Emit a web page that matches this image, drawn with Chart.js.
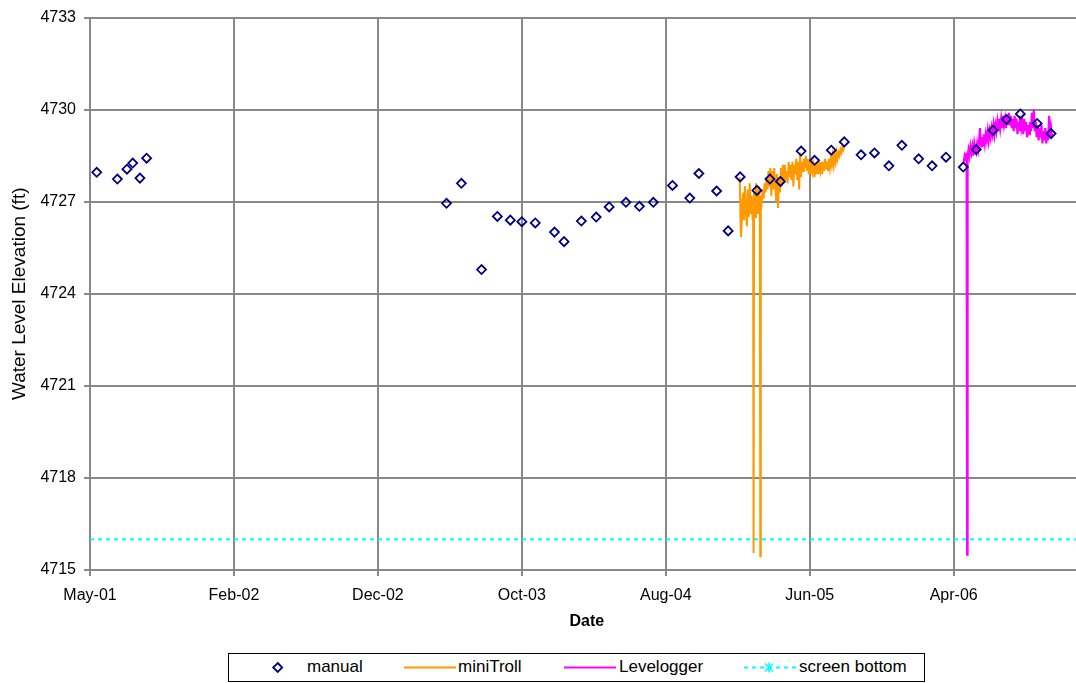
<!DOCTYPE html>
<html>
<head>
<meta charset="utf-8">
<script src="https://cdn.jsdelivr.net/npm/chart.js@4.4.0/dist/chart.umd.min.js"></script>
<style>
  html, body { margin: 0; padding: 0; background: #fff; overflow: hidden; }
  #wrap { position: relative; width: 1076px; height: 683px; overflow: hidden; }
  #chart { position: absolute; left: 0; top: 0; }
  #legend {
    position: absolute; left: 228px; top: 653px; width: 695px; height: 27px;
    border: 1px solid #000; font-family: "Liberation Sans", Arial, sans-serif; font-size: 17px; color: #000;
  }
  #legend span { position: absolute; top: 3px; line-height: 20px; white-space: nowrap; }
  #legend svg { position: absolute; left: 0; top: 0; }
</style>
</head>
<body>
<div id="wrap">
  <canvas id="chart" width="1090" height="640"></canvas>
  <div id="legend">
    <svg width="695" height="27">
      <polygon points="48.7,9 53.2,13.5 48.7,18 44.2,13.5" fill="none" stroke="#000080" stroke-width="1.8"/>
      <line x1="175" y1="13.5" x2="227" y2="13.5" stroke="#FF9900" stroke-width="2"/>
      <line x1="335" y1="13.5" x2="387" y2="13.5" stroke="#FF00FF" stroke-width="2"/>
      <line x1="515" y1="13.5" x2="568" y2="13.5" stroke="#00FFFF" stroke-width="2" stroke-dasharray="4,4"/>
      <path d="M536,9.5 L544,17.5 M544,9.5 L536,17.5 M540,8.5 L540,18.5" stroke="#00FFFF" stroke-width="1.6"/>
    </svg>
    <span style="left:78px">manual</span>
    <span style="left:229px">miniTroll</span>
    <span style="left:390px">Levelogger</span>
    <span style="left:570px">screen bottom</span>
  </div>
</div>
<script>
// x values are days counted from 1 May 2001
const DAY0 = Date.UTC(2001, 4, 1);
const monthNames = ["Jan", "Feb", "Mar", "Apr", "May", "Jun", "Jul", "Aug", "Sep", "Oct", "Nov", "Dec"];
const xMax = 2071;
const xTickDays = [0, 300, 600, 900, 1200, 1500, 1800];   // May-01 ... Apr-06

const manualDays = [
  14, 57, 77, 89, 104, 118,
  743, 774, 816, 849, 876, 900, 928, 968, 988, 1024, 1055, 1082, 1117, 1145,
  1174, 1214, 1250, 1269, 1306, 1330, 1355, 1390, 1417, 1439, 1482, 1510, 1545, 1572,
  1607, 1635, 1665, 1692, 1727, 1755, 1784, 1820, 1847, 1882, 1910, 1939, 1974, 2003
];
const manualLevels = [
  4727.96, 4727.74, 4728.06, 4728.26, 4727.77, 4728.42,
  4726.95, 4727.60, 4724.79, 4726.52, 4726.40, 4726.35, 4726.31, 4726.01, 4725.70, 4726.37, 4726.50, 4726.83, 4726.98, 4726.85,
  4726.98, 4727.53, 4727.12, 4727.92, 4727.35, 4726.05, 4727.81, 4727.37, 4727.74, 4727.66, 4728.65, 4728.35, 4728.68, 4728.95,
  4728.53, 4728.59, 4728.17, 4728.84, 4728.40, 4728.17, 4728.45, 4728.13, 4728.70, 4729.33, 4729.68, 4729.86, 4729.55, 4729.22
];

const trollDays = [
  1354, 1355, 1356, 1357, 1359, 1361, 1363, 1365, 1367, 1369,
  1371, 1373, 1375, 1377, 1379, 1381, 1382, 1383, 1384, 1386,
  1388, 1390, 1392, 1394, 1396, 1397, 1398, 1400, 1402, 1404,
  1406, 1408, 1410, 1412, 1414, 1416, 1418, 1420, 1422, 1424,
  1426, 1428, 1430, 1432, 1434, 1436, 1438, 1440, 1442, 1444,
  1446, 1448, 1450, 1452, 1454, 1456, 1458, 1460, 1462, 1464,
  1466, 1468, 1470, 1472, 1474, 1476, 1478, 1480, 1482, 1484,
  1486, 1488, 1490, 1492, 1494, 1496, 1498, 1500, 1502, 1504,
  1506, 1508, 1510, 1512, 1514, 1516, 1518, 1520, 1522, 1524,
  1526, 1528, 1530, 1532, 1534, 1536, 1538, 1540, 1542, 1544,
  1546, 1548, 1550, 1552, 1554, 1556, 1558, 1560, 1562, 1564,
  1566, 1568, 1570, 1572
];
const trollLevels = [
  4727.80, 4727.10, 4726.30, 4725.85, 4726.60, 4727.30, 4726.40, 4727.50, 4726.70, 4726.20,
  4727.40, 4726.50, 4727.60, 4726.60, 4727.20, 4726.40, 4727.00, 4715.55, 4727.30, 4726.50,
  4727.60, 4727.20, 4726.60, 4727.50, 4726.90, 4715.45, 4727.20, 4727.00, 4727.40, 4727.10,
  4727.60, 4727.30, 4727.80, 4727.40, 4728.00, 4727.50, 4728.10, 4727.20, 4728.00, 4727.40,
  4728.10, 4727.60, 4727.00, 4727.90, 4726.80, 4727.80, 4727.30, 4728.10, 4727.50, 4728.20,
  4727.60, 4728.20, 4727.70, 4728.00, 4727.60, 4728.30, 4727.80, 4728.20, 4727.70, 4728.30,
  4727.50, 4728.20, 4727.90, 4728.40, 4727.70, 4728.30, 4727.40, 4728.60, 4727.80, 4728.30,
  4728.00, 4728.40, 4728.10, 4728.50, 4728.00, 4728.40, 4727.90, 4728.30, 4727.90, 4728.40,
  4728.00, 4728.20, 4727.80, 4728.20, 4727.90, 4728.30, 4727.90, 4728.20, 4728.00, 4728.30,
  4727.90, 4728.30, 4728.00, 4728.40, 4728.10, 4728.30, 4728.00, 4728.40, 4728.10, 4728.40,
  4728.20, 4728.50, 4728.20, 4728.50, 4728.30, 4728.60, 4728.40, 4728.60, 4728.50, 4728.70,
  4728.60, 4728.80, 4728.70, 4728.85
];

const loggerDays = [
  1821, 1823, 1825, 1827, 1828, 1829, 1831, 1833, 1835, 1837,
  1839, 1841, 1843, 1845, 1847, 1849, 1851, 1853, 1855, 1857,
  1859, 1861, 1863, 1865, 1867, 1869, 1871, 1873, 1875, 1877,
  1879, 1881, 1883, 1885, 1887, 1889, 1891, 1893, 1895, 1897,
  1899, 1901, 1903, 1905, 1907, 1909, 1911, 1913, 1915, 1917,
  1919, 1921, 1923, 1925, 1927, 1929, 1931, 1933, 1935, 1937,
  1939, 1941, 1943, 1945, 1947, 1949, 1951, 1953, 1955, 1957,
  1959, 1961, 1963, 1965, 1967, 1969, 1971, 1973, 1975, 1977,
  1979, 1981, 1983, 1985, 1987, 1989, 1991, 1993, 1995, 1997,
  1999, 2001, 2003, 2005
];
const loggerLevels = [
  4728.30, 4728.50, 4728.40, 4728.60, 4715.50, 4728.50, 4728.70, 4728.50, 4728.80, 4728.60,
  4728.80, 4728.50, 4728.90, 4728.70, 4728.60, 4728.90, 4728.70, 4729.00, 4729.40, 4728.80,
  4729.10, 4728.80, 4729.20, 4728.90, 4729.20, 4729.00, 4729.30, 4729.00, 4729.30, 4729.10,
  4729.40, 4729.20, 4729.50, 4729.20, 4729.50, 4729.30, 4729.60, 4729.30, 4729.70, 4729.40,
  4729.70, 4729.40, 4729.80, 4729.50, 4729.70, 4729.40, 4729.80, 4729.50, 4729.90, 4729.50,
  4729.80, 4729.40, 4729.70, 4729.30, 4729.80, 4729.40, 4729.70, 4729.20, 4729.60, 4729.30,
  4729.80, 4729.40, 4729.60, 4729.20, 4729.70, 4729.30, 4729.60, 4729.10, 4729.50, 4729.20,
  4729.60, 4729.30, 4729.90, 4729.40, 4730.00, 4729.30, 4729.60, 4729.10, 4729.50, 4729.00,
  4729.40, 4729.10, 4729.50, 4728.90, 4729.30, 4729.00, 4729.40, 4728.90, 4729.30, 4729.00,
  4729.80, 4729.10, 4729.40, 4729.10
];

const screenDays = [0, xMax];
const screenLevels = [4716, 4716];

const pts = (xs, ys) => xs.map((x, i) => ({ x: x, y: ys[i] }));

function dateLabel(d) {
  const dt = new Date(DAY0 + d * 86400000);
  return monthNames[dt.getUTCMonth()] + "-" + String(dt.getUTCFullYear() % 100).padStart(2, "0");
}

const FONT = "'Liberation Sans', Arial, sans-serif";
const gridGray = "#888888";

new Chart(document.getElementById("chart"), {
  type: "scatter",
  data: {
    datasets: [
      {
        label: "manual",
        data: pts(manualDays, manualLevels),
        showLine: false,
        pointStyle: "rectRot",
        pointRadius: 4.5,
        pointBorderWidth: 1.8,
        pointBorderColor: "#000080",
        pointBackgroundColor: "rgba(0,0,0,0)"
      },
      {
        label: "miniTroll",
        data: pts(trollDays, trollLevels),
        showLine: true,
        borderColor: "#FF9900",
        borderWidth: 2,
        pointRadius: 0
      },
      {
        label: "Levelogger",
        data: pts(loggerDays, loggerLevels),
        showLine: true,
        borderColor: "#FF00FF",
        borderWidth: 2.2,
        pointRadius: 0
      },
      {
        label: "screen bottom",
        data: pts(screenDays, screenLevels),
        showLine: true,
        borderColor: "#00FFFF",
        borderWidth: 2,
        borderDash: [4, 4],
        pointRadius: 0
      }
    ]
  },
  options: {
    responsive: false,
    animation: false,
    devicePixelRatio: 1,
    layout: { padding: { top: 16, left: 0, right: 0, bottom: 0 } },
    plugins: { legend: { display: false }, tooltip: { enabled: false } },
    scales: {
      x: {
        type: "linear",
        min: 0,
        max: xMax,
        border: { color: gridGray, width: 2 },
        grid: { color: gridGray, lineWidth: 2, tickLength: 6 },
        ticks: {
          autoSkip: false,
          maxRotation: 0,
          padding: 10,
          color: "#000",
          font: { family: FONT, size: 16 },
          callback: v => dateLabel(v)
        },
        title: {
          display: true,
          text: "Date",
          color: "#000",
          font: { family: FONT, size: 16, weight: "bold" },
          padding: { top: 0, bottom: 9 }
        },
        afterBuildTicks: s => { s.ticks = xTickDays.map(v => ({ value: v })); },
        afterFit: s => { s.height = 70; }
      },
      y: {
        min: 4715,
        max: 4733,
        border: { color: gridGray, width: 2 },
        grid: { color: gridGray, lineWidth: 2, tickLength: 6 },
        ticks: {
          stepSize: 3,
          padding: 8,
          color: "#000",
          font: { family: FONT, size: 16 },
          callback: v => String(v)
        },
        title: {
          display: true,
          text: "Water Level Elevation (ft)",
          color: "#000",
          font: { family: FONT, size: 19 },
          padding: { top: 8, bottom: 0 }
        },
        afterFit: s => { s.width = 90; }
      }
    }
  }
});
</script>
</body>
</html>
